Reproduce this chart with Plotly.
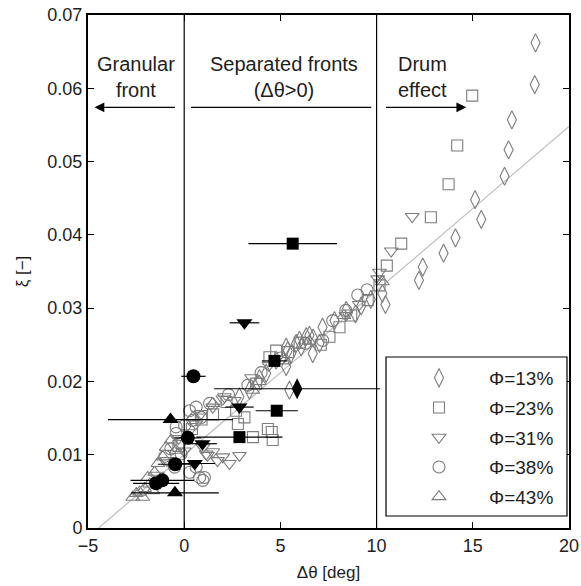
import plotly.graph_objects as go

# ---------------- data ----------------
# Open symbols: five solid fractions
d13_x = [18.26, 18.22, 17.03, 16.86, 16.65, 15.12, 15.44, 14.10, 13.48, 12.40, 12.2, 10.46, 10.3,
         5.30, 5.99, 6.51, 7.19, 7.81, 8.42, 6.70, 6.08, 5.56, 5.30, 5.47, 7.03, 5.82, 5.38, 4.78,
         4.26, 3.91, 3.39, 2.87, 6.34, 6.68, 9.2, 9.7, 8.9]
d13_y = [0.0662, 0.0605, 0.0557, 0.0516, 0.0480, 0.0448, 0.0421, 0.0396, 0.0375, 0.0356, 0.0338, 0.0305, 0.0320,
         0.0247, 0.0256, 0.0263, 0.0274, 0.0283, 0.0297, 0.0259, 0.0247, 0.0238, 0.0220, 0.0188, 0.0252, 0.0252, 0.0242, 0.0229,
         0.0211, 0.0204, 0.0188, 0.0179, 0.0261, 0.0238, 0.0303, 0.0312, 0.0292]

d23_x = [14.97, 14.19, 13.74, 12.82, 11.28, 10.53, 10.15,
         8.68, 8.07, 7.55, 7.10, 9.54, 4.78, 4.43, 3.74, 2.70, 3.13, 2.79, 3.57, 4.35, 4.60, 4.55,
         0.4, 0.9, 1.5, -0.3, 2.2, 6.0, 5.4]
d23_y = [0.0590, 0.0522, 0.0469, 0.0424, 0.0388, 0.0358, 0.0331,
         0.0290, 0.0274, 0.0261, 0.0250, 0.0311, 0.0242, 0.0233, 0.0197, 0.0160, 0.0151, 0.0142, 0.0124, 0.0135, 0.0120, 0.0131,
         0.0135, 0.0148, 0.0155, 0.0112, 0.0172, 0.0253, 0.0240]

d31_x = [11.85, 10.76, 10.15, 10.06,
         2.01, 1.49, 2.61, 0.88, 2.09,
         2.35, 1.73, 1.21, 1.49, 0.97, 2.01, 2.87, 1.14,
         0.2, -0.3, 0.6, -0.9, -1.4, 0.0, 9.1, 8.4, 3.5, 4.4]
d31_y = [0.0425, 0.0378, 0.0349, 0.0340,
         0.0176, 0.0165, 0.0174, 0.0156, 0.0179,
         0.0088, 0.0092, 0.0099, 0.0104, 0.0110, 0.0097, 0.0099, 0.0101,
         0.0130, 0.0122, 0.0142, 0.0092, 0.0072, 0.0105, 0.0305, 0.0290, 0.0205, 0.0222]

d38_x = [3.31, 1.32, 0.28, -0.42, 0.62, 9.02, 7.72, 7.20,
         -0.42, -0.24, 0.80, 0.97, 0.62, 0.45, 0.88, -0.16, -0.50, 0.28, 0.02, 1.05,
         2.3, 4.0, 5.0, 6.3, 8.4, 9.5, -1.0, -0.7]
d38_y = [0.0195, 0.0170, 0.0160, 0.0138, 0.0165, 0.0318, 0.0283, 0.0256,
         0.0129, 0.0115, 0.0069, 0.0065, 0.0083, 0.0147, 0.0151, 0.0101, 0.0083, 0.0076, 0.0140, 0.0069,
         0.0182, 0.0212, 0.0232, 0.0252, 0.0297, 0.0325, 0.0098, 0.0108]

d43_x = [-1.37, -1.54, -1.80, -2.06, -2.32, -2.49, -1.11, -0.94, -0.68, -0.42, -1.63, -1.28, -1.89, -2.15, -2.67,
         0.45, 1.49, 3.57, 3.9, 5.2, 6.5, 8.3, 10.3]
d43_y = [0.0088, 0.0076, 0.0060, 0.0054, 0.0049, 0.0047, 0.0097, 0.0110, 0.0120, 0.0106, 0.0051, 0.0063, 0.0069, 0.0042, 0.0042,
         0.0151, 0.0170, 0.0188, 0.0200, 0.0228, 0.0255, 0.0290, 0.0336]

# Filled symbols with horizontal error bars
f13_x = [5.87];  f13_y = [0.0190];  f13_e = [4.31]
f23_x = [4.69, 4.81, 2.87, 5.64]
f23_y = [0.0228, 0.0160, 0.0124, 0.0388]
f23_e = [0.65, 1.10, 2.24, 2.30]
f31_x = [3.13, 2.87, 0.95, 0.55]
f31_y = [0.0280, 0.0165, 0.0115, 0.0088]
f31_e = [0.77, 0.74, 0.75, 1.05]
f38_x = [0.48, 0.19, -0.47, -1.14, -1.46]
f38_y = [0.0207, 0.0123, 0.0087, 0.0065, 0.0061]
f38_e = [0.63, 0.70, 0.90, 1.65, 1.20]
f43_x = [-0.71, -0.48]
f43_y = [0.0148, 0.0048]
f43_e = [3.25, 2.28]

# Linear fit line end points
fit_x = [-4.45, 20.0]
fit_y = [0.0, 0.0548]

legend_names = ["Φ=13%", "Φ=23%", "Φ=31%", "Φ=38%", "Φ=43%"]

# ---------------- figure ----------------
FONT = "Liberation Sans, Arial, sans-serif"
GRAY = "rgb(125,125,125)"
TXT = "rgb(30,30,30)"

W, H = 581, 586
ML, MR, MT, MB = 88, 12, 15, 58
PW, PH = W - ML - MR, H - MT - MB


def px_to_paper_x(px):
    return (px - ML) / PW


def px_to_paper_y(py):
    return (H - MB - py) / PH


fig = go.Figure()

fig.add_trace(go.Scatter(x=fit_x, y=fit_y, mode="lines",
                         line=dict(color="rgb(190,190,190)", width=1.2),
                         showlegend=False, hoverinfo="skip"))

open_sets = [
    (d13_x, d13_y, "diamond-tall-open", 13),
    (d23_x, d23_y, "square-open", 11),
    (d31_x, d31_y, "triangle-down-open", 12),
    (d38_x, d38_y, "circle-open", 12),
    (d43_x, d43_y, "triangle-up-open", 12),
]
for i, (xs, ys, sym, sz) in enumerate(open_sets):
    fig.add_trace(go.Scatter(
        x=xs, y=ys, mode="markers", name=legend_names[i],
        legendgroup=f"g{i}",
        marker=dict(symbol=sym, size=sz, color=GRAY, line=dict(color=GRAY, width=1.1)),
    ))

filled_sets = [
    (f13_x, f13_y, f13_e, "diamond-tall", 15),
    (f23_x, f23_y, f23_e, "square", 12),
    (f31_x, f31_y, f31_e, "triangle-down", 14),
    (f38_x, f38_y, f38_e, "circle", 14),
    (f43_x, f43_y, f43_e, "triangle-up", 14),
]
for xs, ys, es, sym, sz in filled_sets:
    fig.add_trace(go.Scatter(
        x=xs, y=ys, mode="markers", showlegend=False,
        error_x=dict(type="data", array=es, visible=True, color="black", thickness=1.2, width=0),
        marker=dict(symbol=sym, size=sz, color="black", line=dict(width=0)),
    ))

# vertical regime boundaries
for xv in [0, 10]:
    fig.add_shape(type="line", xref="x", yref="y", x0=xv, x1=xv, y0=0, y1=0.07,
                  line=dict(color="black", width=1.2))

# legend frame
fig.add_shape(type="rect", xref="paper", yref="paper",
              x0=px_to_paper_x(386), x1=px_to_paper_x(567),
              y0=px_to_paper_y(516), y1=px_to_paper_y(357),
              line=dict(color="black", width=1.2), fillcolor="white", layer="above")

# text labels
txt_font = dict(family=FONT, size=20, color=TXT)
fig.add_annotation(x=-2.49, y=0.0616, text="Granular<br>front", showarrow=False,
                   xanchor="center", yanchor="middle", align="center", font=txt_font)
fig.add_annotation(x=5.20, y=0.0616, text="Separated fronts<br>(Δθ>0)", showarrow=False,
                   xanchor="center", yanchor="middle", align="center", font=txt_font)
fig.add_annotation(x=11.02, y=0.0616, text="Drum<br>effect", showarrow=False,
                   xanchor="left", yanchor="middle", align="left", font=txt_font)

# arrows
arrow_y = 0.0574
fig.add_annotation(x=-4.66, y=arrow_y, ax=-0.40, ay=arrow_y, xref="x", yref="y",
                   axref="x", ayref="y", text="", showarrow=True,
                   arrowhead=2, arrowsize=1.4, arrowwidth=1.4, arrowcolor="black")
fig.add_annotation(x=9.72, y=arrow_y, ax=0.28, ay=arrow_y, xref="x", yref="y",
                   axref="x", ayref="y", text="", showarrow=True,
                   arrowhead=0, arrowwidth=1.4, arrowcolor="black")
fig.add_annotation(x=14.66, y=arrow_y, ax=10.41, ay=arrow_y, xref="x", yref="y",
                   axref="x", ayref="y", text="", showarrow=True,
                   arrowhead=2, arrowsize=1.4, arrowwidth=1.4, arrowcolor="black")

axis_common = dict(
    showgrid=False, zeroline=False, showline=True, linecolor="black", linewidth=2,
    mirror="ticks", ticks="inside", ticklen=6, tickwidth=1, tickcolor="black",
    tickfont=dict(family=FONT, size=18, color=TXT), automargin=False,
)

fig.update_xaxes(range=[-5, 20], tickvals=[-5, 0, 5, 10, 15, 20],
                 title=dict(text="Δθ [deg]", font=dict(family=FONT, size=17, color=TXT), standoff=12),
                 **axis_common)
fig.update_yaxes(range=[0, 0.07], tickvals=[0, 0.01, 0.02, 0.03, 0.04, 0.05, 0.06, 0.07],
                 ticktext=["0", "0.01", "0.02", "0.03", "0.04", "0.05", "0.06", "0.07"],
                 title=dict(text="ξ [−]", font=dict(family=FONT, size=17, color=TXT), standoff=14),
                 **axis_common)

fig.update_layout(
    width=W, height=H,
    margin=dict(l=ML, r=MR, t=MT, b=MB, autoexpand=False),
    paper_bgcolor="white", plot_bgcolor="white",
    font=dict(family=FONT),
    legend=dict(
        x=px_to_paper_x(389), y=px_to_paper_y(359), xanchor="left", yanchor="top",
        bgcolor="rgba(0,0,0,0)", borderwidth=0,
        font=dict(family=FONT, size=19, color=TXT),
        itemwidth=90, tracegroupgap=2,
    ),
)

fig.write_html("out.html")
